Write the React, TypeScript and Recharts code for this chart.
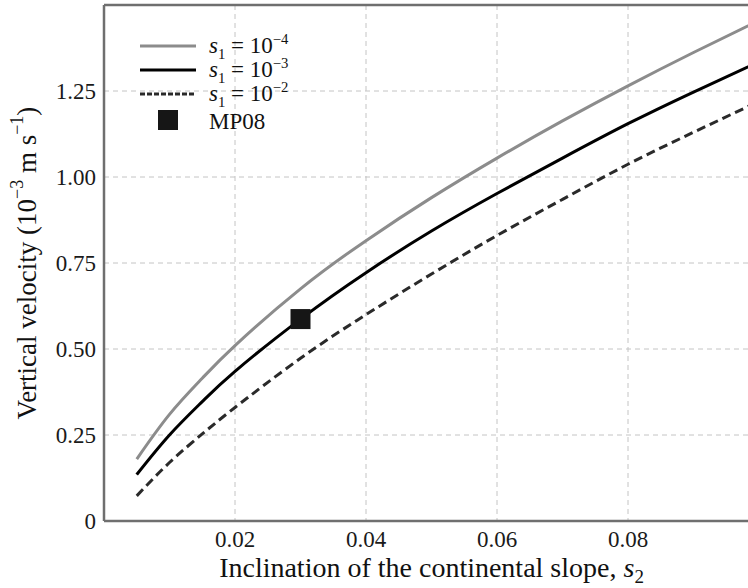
import React from 'react';
import {
    ComposedChart, Line, Scatter, XAxis, YAxis, CartesianGrid, Label, ReferenceLine
} from 'recharts';

// inclination of the continental slope, s2
const S2 = [0.005, 0.01, 0.015, 0.02, 0.03, 0.04, 0.05, 0.06, 0.07, 0.08, 0.09, 0.1];
// vertical velocity (1e-3 m/s) for each s1
const V_S1_E4 = [0.18, 0.31, 0.415, 0.51, 0.675, 0.815, 0.94, 1.055, 1.163, 1.265, 1.362, 1.455];
const V_S1_E3 = [0.135, 0.25, 0.347, 0.435, 0.587, 0.722, 0.843, 0.952, 1.055, 1.155, 1.247, 1.335];
const V_S1_E2 = [0.073, 0.17, 0.253, 0.33, 0.473, 0.60, 0.718, 0.83, 0.935, 1.037, 1.13, 1.22];

const MP08 = [{s2: 0.03, v: 0.587}];

const X_TICKS = [0.02, 0.04, 0.06, 0.08];
const Y_TICKS = [0, 0.25, 0.5, 0.75, 1.0, 1.25];

const data = S2.map((s, i) => ({s2: s, e4: V_S1_E4[i], e3: V_S1_E3[i], e2: V_S1_E2[i]}));

const FONT = '"Liberation Serif", "DejaVu Serif", serif';
const AXIS = '#6f6f6f';

const LEGEND = [
    {exp: '−4', color: '#8c8c8c', dash: undefined},
    {exp: '−3', color: '#000', dash: undefined},
    {exp: '−2', color: '#2a2a2a', dash: '5 2'},
];

const Square = (props) => {
    const {cx, cy} = props;
    return <rect x={cx - 10} y={cy - 10} width={20} height={20} fill="#161616"/>;
};

const sup = {fontSize: '0.64em', verticalAlign: 'super', lineHeight: 0};
const sub = {fontSize: '0.64em', verticalAlign: 'sub', lineHeight: 0};

const LegendBox = () => (
    <div style={{position: 'absolute', left: 140, top: 34, fontFamily: FONT, fontSize: 23, color: '#111'}}>
        {LEGEND.map(item => (
            <div key={item.exp} style={{display: 'flex', alignItems: 'center', height: 24}}>
                <svg width={56} height={10} style={{marginRight: 13}}>
                    <line x1={0} y1={5} x2={56} y2={5} stroke={item.color} strokeWidth={3}
                          strokeDasharray={item.dash}/>
                </svg>
                <span style={{lineHeight: '22px'}}>
                    <i>s</i><span style={sub}>1</span> = 10<span style={sup}>{item.exp}</span>
                </span>
            </div>
        ))}
        <div style={{display: 'flex', alignItems: 'center', height: 28}}>
            <div style={{width: 56, marginRight: 13, display: 'flex', justifyContent: 'center'}}>
                <div style={{width: 20, height: 20, background: '#161616'}}/>
            </div>
            <span style={{lineHeight: '22px', marginTop: 3}}>MP08</span>
        </div>
    </div>
);

const XLabel = ({viewBox}) => {
    const {x, y, width} = viewBox;
    return (
        <text x={x + width / 2} y={y + 56} textAnchor="middle" fontFamily={FONT} fontSize={28} fill="#111">
            Inclination of the continental slope, <tspan fontStyle="italic">s</tspan>
            <tspan fontSize={19} dy={6}>2</tspan>
        </text>
    );
};

const YLabel = ({viewBox}) => {
    const {x, y, height} = viewBox;
    const cx = x + 27;
    const cy = y + height / 2;
    return (
        <text x={cx} y={cy} transform={`rotate(-90 ${cx} ${cy})`} textAnchor="middle"
              dominantBaseline="central" fontFamily={FONT} fontSize={27} fill="#111">
            Vertical velocity (10<tspan fontSize={18} dy={-10}>−3</tspan>
            <tspan dy={10}> m s</tspan><tspan fontSize={18} dy={-10}>−1</tspan>
            <tspan dy={10}>)</tspan>
        </text>
    );
};

const tickStyle = {fontFamily: FONT, fontSize: 23, fill: '#1a1a1a'};

export default function App() {
    return (
        <div style={{position: 'fixed', left: 0, top: 0, width: 748, height: 588, overflow: 'hidden', background: '#fff'}}>
            <ComposedChart width={770} height={588} data={data}
                           margin={{top: 5, right: 11, bottom: 0, left: 0}}>
                <CartesianGrid stroke="#c4c4c4" strokeDasharray="5 4" />
                <XAxis dataKey="s2" type="number" domain={[0, 0.1]} ticks={X_TICKS}
                       tickFormatter={(v) => v.toFixed(2)} tick={tickStyle}
                       tickLine={false} tickSize={0} tickMargin={10} height={67}
                       axisLine={{stroke: AXIS, strokeWidth: 2.5}} allowDataOverflow>
                    <Label content={XLabel}/>
                </XAxis>
                <YAxis type="number" domain={[0, 1.5]} ticks={Y_TICKS}
                       tickFormatter={(v) => (v === 0 ? '0' : v.toFixed(2))} tick={tickStyle}
                       tickLine={false} tickSize={0} tickMargin={8} width={104}
                       axisLine={{stroke: AXIS, strokeWidth: 2.5}} allowDataOverflow>
                    <Label content={YLabel}/>
                </YAxis>
                <ReferenceLine y={1.5} stroke={AXIS} strokeWidth={2.5}/>
                <ReferenceLine x={0.1} stroke={AXIS} strokeWidth={2.5}/>
                <Line type="natural" dataKey="e4" stroke="#8c8c8c" strokeWidth={3} dot={false}
                      isAnimationActive={false}/>
                <Line type="natural" dataKey="e3" stroke="#000" strokeWidth={3} dot={false}
                      isAnimationActive={false}/>
                <Line type="natural" dataKey="e2" stroke="#2a2a2a" strokeWidth={3} dot={false}
                      strokeDasharray="9 5" isAnimationActive={false}/>
                <Scatter data={MP08} dataKey="v" shape={Square} isAnimationActive={false}/>
            </ComposedChart>
            <LegendBox/>
        </div>
    );
}
